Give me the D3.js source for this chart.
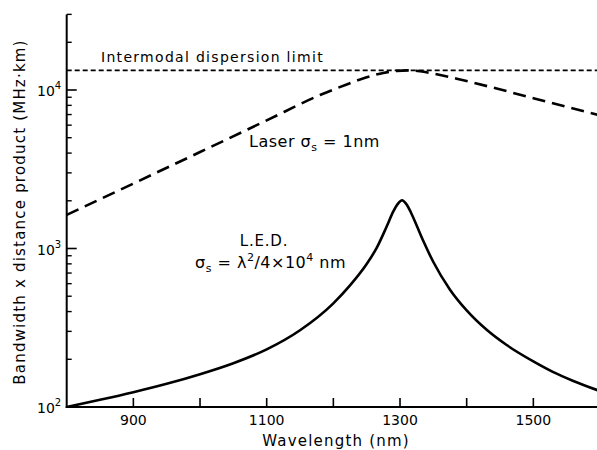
<!DOCTYPE html>
<html>
<head>
<meta charset="utf-8">
<script src="https://cdn.jsdelivr.net/npm/d3@7"></script>
<style>
  body { margin: 0; background: #fff; }
  text { font-family: "DejaVu Sans", sans-serif; fill: #000; }
</style>
</head>
<body>
<svg width="597" height="450"></svg>
<script>
// wavelength (nm) and bandwidth x distance (MHz.km)
var ledWave = [800, 850, 900, 950, 1000, 1050, 1100, 1150, 1200, 1225, 1250, 1265, 1280, 1290, 1297, 1303, 1309, 1316, 1325, 1335, 1350, 1375, 1400, 1430, 1460, 1500, 1530, 1560, 1600]
var ledBW = [100, 111, 124, 140, 161, 189, 231, 305, 451, 585, 798, 1009, 1377, 1714, 1919, 2014, 1919, 1700, 1396, 1114, 822, 550, 407, 307, 246, 194, 166, 146, 126]

var laserWave = [800, 900, 1000, 1100, 1180, 1220, 1250, 1275, 1295, 1312, 1330, 1350, 1395, 1445, 1500, 1555, 1600]
var laserBW = [1630, 2570, 4060, 6430, 9290, 10840, 12020, 12820, 13210, 13300, 13120, 12700, 11510, 10210, 8870, 7730, 6920]

var limitBW = 13300

var xTicks = [900, 1000, 1100, 1200, 1300, 1400, 1500]
var xLabels = [900, 1100, 1300, 1500]
var yMajor = [100, 1000, 10000]
var yMinor = [200, 300, 400, 500, 600, 700, 800, 900, 2000, 3000, 4000, 5000, 6000, 7000, 8000, 9000, 20000, 30000]

var svg = d3.select('svg')

var x = d3.scaleLinear().domain([800, 1600]).range([66.7, 600])
var y = d3.scaleLog().domain([100, 10000]).range([407, 90])

var line = d3.line()
  .x(d => x(d[0]))
  .y(d => y(d[1]))
  .curve(d3.curveMonotoneX)

var clip = svg.append('clipPath').attr('id', 'plot')
clip.append('rect').attr('x', 66).attr('y', 0).attr('width', 540).attr('height', 407)

var g = svg.append('g').attr('clip-path', 'url(#plot)')

// intermodal dispersion limit
g.append('line')
  .attr('x1', x(800)).attr('x2', x(1600))
  .attr('y1', y(limitBW)).attr('y2', y(limitBW))
  .attr('stroke', '#000').attr('stroke-width', 1.6)
  .attr('stroke-dasharray', '5,3')

// laser curve
g.append('path')
  .datum(d3.zip(laserWave, laserBW))
  .attr('d', line)
  .attr('fill', 'none').attr('stroke', '#000').attr('stroke-width', 2.6)
  .attr('stroke-dasharray', '13,7')

// LED curve
g.append('path')
  .datum(d3.zip(ledWave, ledBW))
  .attr('d', line)
  .attr('fill', 'none').attr('stroke', '#000').attr('stroke-width', 2.6)

// axes
svg.append('line')
  .attr('x1', x(800)).attr('x2', x(800))
  .attr('y1', y(30000)).attr('y2', y(100) + 1)
  .attr('stroke', '#000').attr('stroke-width', 2)
svg.append('line')
  .attr('x1', x(800) - 1).attr('x2', 597)
  .attr('y1', y(100)).attr('y2', y(100))
  .attr('stroke', '#000').attr('stroke-width', 2)

svg.selectAll('.xt')
  .data(xTicks)
  .enter()
  .append('line')
  .attr('x1', d => x(d)).attr('x2', d => x(d))
  .attr('y1', y(100)).attr('y2', y(100) - 9)
  .attr('stroke', '#000').attr('stroke-width', 1.6)

svg.selectAll('.xl')
  .data(xLabels)
  .enter()
  .append('text')
  .attr('x', d => x(d)).attr('y', 425)
  .attr('text-anchor', 'middle')
  .attr('font-size', 14)
  .text(d => d)

svg.selectAll('.ymaj')
  .data(yMajor)
  .enter()
  .append('line')
  .attr('x1', x(800)).attr('x2', x(800) + 10)
  .attr('y1', d => y(d)).attr('y2', d => y(d))
  .attr('stroke', '#000').attr('stroke-width', 1.6)

svg.selectAll('.ymin')
  .data(yMinor)
  .enter()
  .append('line')
  .attr('x1', x(800)).attr('x2', x(800) + 5)
  .attr('y1', d => y(d)).attr('y2', d => y(d))
  .attr('stroke', '#000').attr('stroke-width', 1.4)

var yl = svg.selectAll('.yl')
  .data(yMajor)
  .enter()
  .append('text')
  .attr('x', 37).attr('y', d => y(d) + 6)
  .attr('font-size', 14)
yl.append('tspan').text('10')
yl.append('tspan')
  .attr('dy', -7).attr('font-size', 10)
  .text(d => Math.round(Math.log10(d)))

// axis titles
svg.append('text')
  .attr('transform', 'translate(25,212) rotate(-90)')
  .attr('text-anchor', 'middle')
  .attr('font-size', 15)
  .attr('letter-spacing', 1.2)
  .text('Bandwidth x distance product (MHz·km)')

svg.append('text')
  .attr('x', 336).attr('y', 446)
  .attr('text-anchor', 'middle')
  .attr('font-size', 15)
  .attr('letter-spacing', 1.2)
  .text('Wavelength (nm)')

// annotations
svg.append('text')
  .attr('x', 101).attr('y', 62)
  .attr('font-size', 14)
  .attr('letter-spacing', 1.3)
  .text('Intermodal dispersion limit')

var laserLabel = svg.append('text')
  .attr('x', 249).attr('y', 147)
  .attr('font-size', 16)
  .attr('letter-spacing', 0.5)
laserLabel.append('tspan').text('Laser σ')
laserLabel.append('tspan').attr('dy', 4).attr('font-size', 11).text('s')
laserLabel.append('tspan').attr('dy', -4).text(' = 1nm')

svg.append('text')
  .attr('x', 264).attr('y', 246)
  .attr('text-anchor', 'middle')
  .attr('font-size', 15)
  .attr('letter-spacing', 0.8)
  .text('L.E.D.')

var ledLabel = svg.append('text')
  .attr('x', 195).attr('y', 268)
  .attr('font-size', 16)
  .attr('letter-spacing', 0.5)
ledLabel.append('tspan').text('σ')
ledLabel.append('tspan').attr('dy', 4).attr('font-size', 11).text('s')
ledLabel.append('tspan').attr('dy', -4).text(' = λ')
ledLabel.append('tspan').attr('dy', -7).attr('font-size', 11).text('2')
ledLabel.append('tspan').attr('dy', 7).text('/4×10')
ledLabel.append('tspan').attr('dy', -7).attr('font-size', 11).text('4')
ledLabel.append('tspan').attr('dy', 7).text('  nm')
</script>
</body>
</html>
